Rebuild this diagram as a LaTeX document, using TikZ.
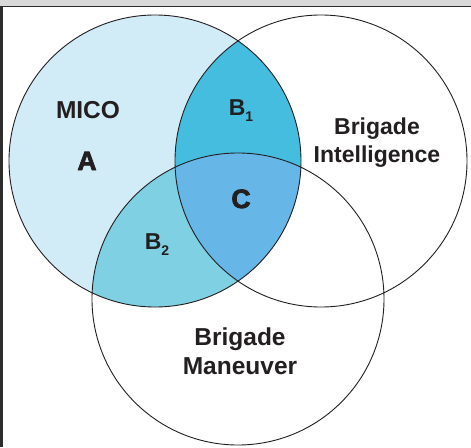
\documentclass[tikz,border=0pt]{standalone}
\usepackage{fontspec}
\setmainfont{Liberation Sans}
\newfontfamily\heavyFont[FakeBold=3]{Liberation Sans Bold}
\usetikzlibrary{positioning}
\definecolor{textgray}{RGB}{35,31,32}
\definecolor{ringgray}{RGB}{35,31,32}
\definecolor{bandgray}{RGB}{217,217,217}
\definecolor{framegray}{RGB}{45,45,45}
\definecolor{micoFill}{RGB}{210,236,247}
\definecolor{bOneFill}{RGB}{69,189,223}
\definecolor{bTwoFill}{RGB}{127,208,226}
\definecolor{cFill}{RGB}{102,182,232}
\newcommand{\vennRad}{146pt}
\newcommand{\subFont}{\fontsize{14}{14}\selectfont}

\begin{document}
\begin{tikzpicture}[x=1pt, y=-1pt,
		every node/.style={font=\bfseries\fontsize{23}{28}\selectfont, text=textgray, inner sep=0pt},
		ring/.style={draw=ringgray, line width=0.9pt},
		setlabel/.style={align=center, anchor=base},
		bigger/.style={font=\bfseries\fontsize{24.5}{29}\selectfont},
		regionletter/.style={anchor=base, font=\heavyFont\fontsize{26.5}{26.5}\selectfont}]
	\useasboundingbox (0,0) rectangle (471,447);
	\fill[white] (0,0) rectangle (471,447);
	% frame
	\fill[bandgray] (0,0) rectangle (471,6);
	\draw[framegray, line width=1.2pt] (0,6.6) -- (471,6.6);
	\fill[framegray] (0,6) rectangle (3,447);
	% centres of the three sets
	\coordinate (mico) at (155,161);
	\coordinate (intel) at (321,161);
	\coordinate (maneuver) at (238,299);
	% shaded regions
	\fill[micoFill] (mico) circle (\vennRad);
	\begin{scope}
		\clip (mico) circle (\vennRad);
		\fill[bOneFill] (intel) circle (\vennRad);
		\fill[bTwoFill] (maneuver) circle (\vennRad);
		\clip (intel) circle (\vennRad);
		\fill[cFill] (maneuver) circle (\vennRad);
	\end{scope}
	% outlines
	\draw[ring] (mico) circle (\vennRad);
	\draw[ring] (intel) circle (\vennRad);
	\draw[ring] (maneuver) circle (\vennRad);
	% labels (base = last line)
	\node[setlabel, bigger] (micoName) at (88,118) {MICO};
	\node[regionletter] (regionA) at (87,170) {A};
	\node[setlabel] (regionBOne) at (241,115) {B\raisebox{-6pt}{\subFont 1}};
	\node[setlabel] (intelName) at (377,162) {Brigade\\Intelligence};
	\node[regionletter] (regionC) at (241,208) {C};
	\node[setlabel] (regionBTwo) at (157,249) {B\raisebox{-6pt}{\subFont 2}};
	\node[setlabel, bigger] (maneuverName) at (240,374) {Brigade\\Maneuver};
\end{tikzpicture}
\end{document}
